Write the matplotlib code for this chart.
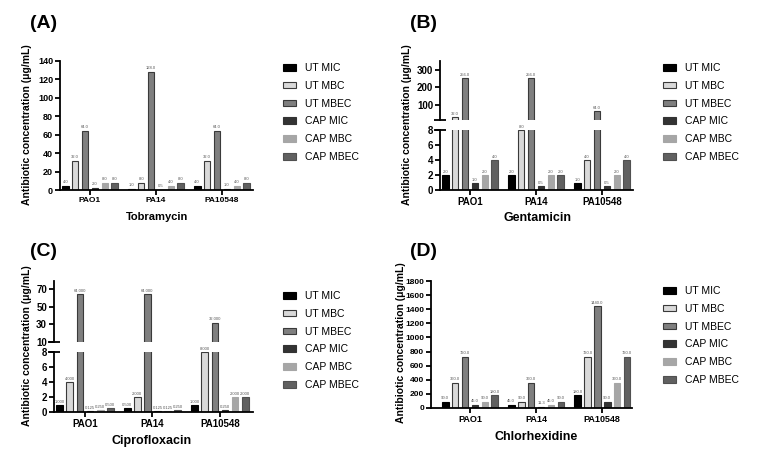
import matplotlib
matplotlib.use('Agg')
import matplotlib.pyplot as plt
from matplotlib.patches import Patch
import numpy as np

plt.rcParams['font.family'] = ['Liberation Sans', 'DejaVu Sans']

W, H = 762, 468

strains = ['PAO1', 'PA14', 'PA10548']
series = ['UT MIC', 'UT MBC', 'UT MBEC', 'CAP MIC', 'CAP MBC', 'CAP MBEC']
colors = ['#000000', '#d9d9d9', '#7f7f7f', '#333333', '#a6a6a6', '#606060']
edges = ['#000000', '#3a3a3a', '#3a3a3a', '#333333', '#a6a6a6', '#505050']

# one row per strain, columns in series order (ug/mL)
tobramycin = [[4, 32, 64, 2, 8, 8],
              [1, 8, 128, 0.5, 4, 8],
              [4, 32, 64, 1, 4, 8]]
gentamicin = [[2, 32, 256, 1, 2, 4],
              [2, 8, 256, 0.5, 2, 2],
              [1, 4, 64, 0.5, 2, 4]]
ciprofloxacin = [[1, 4, 64, 0.125, 0.25, 0.5],
                 [0.5, 2, 64, 0.125, 0.125, 0.25],
                 [1, 8, 32, 0.25, 2, 2]]
chlorhexidine = [[90, 360, 720, 45, 90, 180],
                 [45, 90, 360, 11.3, 45, 90],
                 [180, 720, 1440, 90, 360, 720]]

PITCH = 0.15
WIDTH = 0.1
YLABEL = 'Antibiotic concentration (μg/mL)'


def frame(l, r, t, b):
    return [l / W, 1 - b / H, (r - l) / W, (b - t) / H]


def style(ax, ysize=7, xsize=7):
    for s in ['top', 'right']:
        ax.spines[s].set_visible(False)
    for s in ['left', 'bottom']:
        ax.spines[s].set_linewidth(1.3)
    ax.tick_params(width=1.3, length=3.5, pad=1.5)
    ax.tick_params(axis='y', labelsize=ysize)
    ax.tick_params(axis='x', labelsize=xsize)
    for lab in ax.get_yticklabels() + ax.get_xticklabels():
        lab.set_fontweight('bold')


def bars(ax, data, xlim):
    x = np.arange(len(strains))
    for i in range(len(series)):
        vals = [row[i] for row in data]
        ax.bar(x + (i - 2.5) * PITCH, vals, WIDTH, color=colors[i],
               edgecolor=edges[i], linewidth=0.8)
    ax.set_xlim(*xlim)


def labels(ax, data, fmt, dy, pick=None):
    for j, row in enumerate(data):
        for i, v in enumerate(row):
            if pick is not None and not pick(v):
                continue
            ax.text(j + (i - 2.5) * PITCH, v + dy, fmt.format(v), ha='center',
                    va='bottom', fontsize=3, color='#555555', clip_on=False)


def xaxis(ax):
    ax.set_xticks(range(len(strains)))
    ax.set_xticklabels(strains)


def cap(ax, ypos):
    ax.plot([0], [ypos], marker='_', markersize=8, mew=1.3, color='black',
            transform=ax.transAxes, clip_on=False)


def legend(fig, x, y):
    handles = [Patch(facecolor=colors[i], edgecolor=edges[i], linewidth=0.8)
               for i in range(len(series))]
    fig.legend(handles, series, loc='upper left',
               bbox_to_anchor=(x / W, 1 - y / H), frameon=False, fontsize=7.5,
               handlelength=1.25, handleheight=0.6, handletextpad=0.85,
               labelspacing=0.75, borderaxespad=0, borderpad=0)


def titles(x_lab, y_lab, x_name, y_name, name, name_size, x_tag, y_tag, tag):
    fig.text(x_lab / W, 1 - y_lab / H, YLABEL, rotation=90, ha='center',
             va='center', fontsize=7.5, fontweight='bold')
    fig.text(x_name / W, 1 - y_name / H, name, ha='center', va='center',
             fontsize=name_size, fontweight='bold')
    fig.text(x_tag / W, 1 - y_tag / H, tag, ha='left', va='center',
             fontsize=14, fontweight='bold')


fig = plt.figure(figsize=(W / 100, H / 100), dpi=100)

# (A) Tobramycin
axA = fig.add_axes(frame(60, 253, 61, 190))
bars(axA, tobramycin, (-0.455, 2.47))
axA.set_ylim(0, 140)
axA.set_yticks(range(0, 141, 20))
xaxis(axA)
labels(axA, tobramycin, '{:.1f}', 2)
style(axA, 6.5, 6)
titles(27, 125, 157, 217, 'Tobramycin', 8, 30, 24, '(A)')
legend(fig, 283, 63)

# (B) Gentamicin, broken axis
axBu = fig.add_axes(frame(440, 633, 61, 120))
axBl = fig.add_axes(frame(440, 633, 130, 190))
for ax in (axBu, axBl):
    bars(ax, gentamicin, (-0.455, 2.47))
axBu.set_ylim(15, 350)
axBu.set_yticks([100, 200, 300])
axBu.spines['bottom'].set_visible(False)
axBu.set_xticks([])
axBl.set_ylim(0, 8)
axBl.set_yticks([0, 2, 4, 6, 8])
xaxis(axBl)
labels(axBu, gentamicin, '{:.1f}', 5, lambda v: v > 8)
labels(axBl, gentamicin, '{:.1f}', 0.12, lambda v: v <= 8)
style(axBu)
style(axBl)
cap(axBu, 0)
cap(axBl, 1)
titles(407, 125, 537, 218, 'Gentamicin', 9, 410, 24, '(B)')
legend(fig, 663, 63)

# (C) Ciprofloxacin, broken axis
axCu = fig.add_axes(frame(54, 253, 281, 342))
axCl = fig.add_axes(frame(54, 253, 352, 412))
for ax in (axCu, axCl):
    bars(ax, ciprofloxacin, (-0.46, 2.49))
axCu.set_ylim(10, 79)
axCu.set_yticks([10, 30, 50, 70])
axCu.spines['bottom'].set_visible(False)
axCu.set_xticks([])
axCl.set_ylim(0, 8)
axCl.set_yticks([0, 2, 4, 6, 8])
xaxis(axCl)
labels(axCu, ciprofloxacin, '{:.3f}', 1.2, lambda v: v > 8)
labels(axCl, ciprofloxacin, '{:.3f}', 0.12, lambda v: v <= 8)
style(axCu)
style(axCl)
cap(axCu, 0)
cap(axCl, 1)
titles(27, 346, 152, 441, 'Ciprofloxacin', 9, 30, 252, '(C)')
legend(fig, 283, 291)

# (D) Chlorhexidine
axD = fig.add_axes(frame(431, 632, 281, 408))
bars(axD, chlorhexidine, (-0.59, 2.45))
axD.set_ylim(0, 1800)
axD.set_yticks(range(0, 1801, 200))
xaxis(axD)
labels(axD, chlorhexidine, '{:.1f}', 25)
style(axD, 6, 6.5)
titles(401, 343, 536, 437, 'Chlorhexidine', 9, 410, 252, '(D)')
legend(fig, 663, 286)

fig.savefig('out.png', dpi=100, facecolor='white')
